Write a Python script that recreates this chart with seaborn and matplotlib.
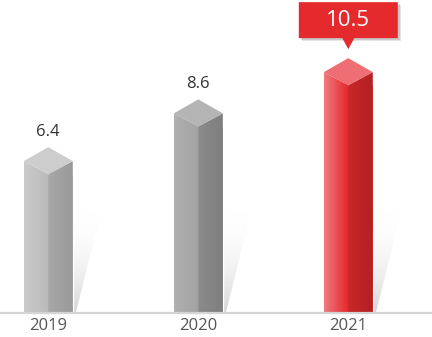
import numpy as np
import pandas as pd
import matplotlib
matplotlib.use("Agg")
import matplotlib.pyplot as plt
import seaborn as sns
from matplotlib.patches import Polygon
from matplotlib.colors import to_rgb

# ---- data ----
years = ["2019", "2020", "2021"]
values = [6.4, 8.6, 10.5]
highlight = "2021"

# ---- styling ----
face_colors = {
    # left-face (left, right), right-face (left, right), top
    "2019": ("#cbcbcb", "#bababa", "#a8a8a8", "#9a9a9a", "#cdcdcd"),
    "2020": ("#b0b0b0", "#a2a2a2", "#8c8c8c", "#7e7e7e", "#b4b4b4"),
    "2021": ("#f07a7d", "#e4262b", "#c8282a", "#b42024", "#ee6e73"),
}
palette = {y: face_colors[y][1] for y in years}

W, H = 432, 337
PX_X = 150.0   # pixels per category step
PX_Y = 21.7    # pixels per value unit
BASE = 313     # baseline pixel row
X0 = 48.3      # pixel position of first category

sns.set_theme(style="white")
plt.rcParams['font.family'] = ['Open Sans', 'DejaVu Sans']

fig = plt.figure(figsize=(W / 100, H / 100), dpi=100)
ax = fig.add_axes([0, (H - BASE) / H, 1, BASE / H])
df = pd.DataFrame({"year": years, "value": values})
sns.barplot(data=df, x="year", y="value", hue="year", palette=palette,
            legend=False, width=49 / PX_X, saturation=1, ax=ax, zorder=1)

sx = 1 / PX_X
sy = 1 / PX_Y


def grad_fill(verts, colors, z, vertical=False):
    poly = Polygon(verts, closed=True, facecolor='none', edgecolor='none',
                   transform=ax.transData)
    ax.add_patch(poly)
    xs = [p[0] for p in verts]
    ys = [p[1] for p in verts]
    g = np.linspace(0, 1, 64)[:, None]
    c1 = np.array(colors[0])
    c2 = np.array(colors[1])
    arr = (1 - g) * c1 + g * c2
    if vertical:
        arr = arr[:, None, :]
    else:
        arr = arr[None, :, :]
    img = ax.imshow(arr, extent=(min(xs), max(xs), min(ys), max(ys)),
                    aspect='auto', zorder=z, interpolation='bilinear',
                    origin='lower')
    img.set_clip_path(poly)


patches = sorted(ax.patches, key=lambda p: p.get_x())
for year, p in zip(years, patches):
    L = p.get_x()
    w = p.get_width()
    v = p.get_height()
    C = L + w / 2
    R = L + w
    d = 13 * sy
    a = 27 * sy
    fc = face_colors[year]
    # shadow
    grad_fill([(R, 0), (R + 3 * sx, 0), (R + 28 * sx, 100 * sy), (R, 105 * sy)],
              [(0.84, 0.84, 0.84, 1.0), (1, 1, 1, 0.0)], 0.5, vertical=True)
    # faces
    grad_fill([(L, 0), (C, 0), (C, v), (L, v + d)],
              [to_rgb(fc[0]), to_rgb(fc[1])], 2)
    grad_fill([(C, 0), (R, 0), (R, v + d), (C, v)],
              [to_rgb(fc[2]), to_rgb(fc[3])], 2)
    ax.add_patch(Polygon([(C, v), (L, v + d), (C, v + a), (R, v + d)],
                         closed=True, facecolor=fc[4], edgecolor='none',
                         zorder=3))
    apex = v + a
    if year == highlight:
        tip = apex + 9 * sy
        bb = tip + 11 * sy
        bh = 36 * sy
        bw = 99 * sx
        red = "#e52a2e"
        # soft shadow
        for off, al in [(3, 0.10), (2, 0.12)]:
            ax.add_patch(Polygon([(C - bw / 2 + off * sx, bb - off * sy),
                                  (C + bw / 2 + off * sx, bb - off * sy),
                                  (C + bw / 2 + off * sx, bb + bh - off * sy),
                                  (C - bw / 2 + off * sx, bb + bh - off * sy)],
                                 closed=True, facecolor='black', alpha=al,
                                 edgecolor='none', zorder=4, clip_on=False))
        ax.add_patch(Polygon([(C - bw / 2, bb), (C - 6 * sx, bb), (C, tip),
                              (C + 6 * sx, bb), (C + bw / 2, bb),
                              (C + bw / 2, bb + bh), (C - bw / 2, bb + bh)],
                             closed=True, facecolor=red, edgecolor='none',
                             zorder=5, clip_on=False))
        ax.text(C, bb + bh / 2, f"{v}", ha='center', va='center',
                fontsize=16, color='white', zorder=6, clip_on=False)
    else:
        ax.text(C, apex + 15 * sy, f"{v}", ha='center', va='center',
                fontsize=12, color='#333333', zorder=6)

ax.set_xlim(-X0 / PX_X, (W - X0) / PX_X)
ax.set_ylim(0, BASE / PX_Y)
ax.set_xlabel("")
ax.set_ylabel("")
ax.set_yticks([])
for s in ["top", "left", "right"]:
    ax.spines[s].set_visible(False)
ax.spines["bottom"].set_color("#d4d4d4")
ax.spines["bottom"].set_linewidth(1.6)
ax.spines["bottom"].set_zorder(7)
ax.tick_params(axis='x', length=0, pad=3.5, labelsize=12, labelcolor='#555555')
ax.patch.set_alpha(0)

fig.savefig("out.png", dpi=100)
